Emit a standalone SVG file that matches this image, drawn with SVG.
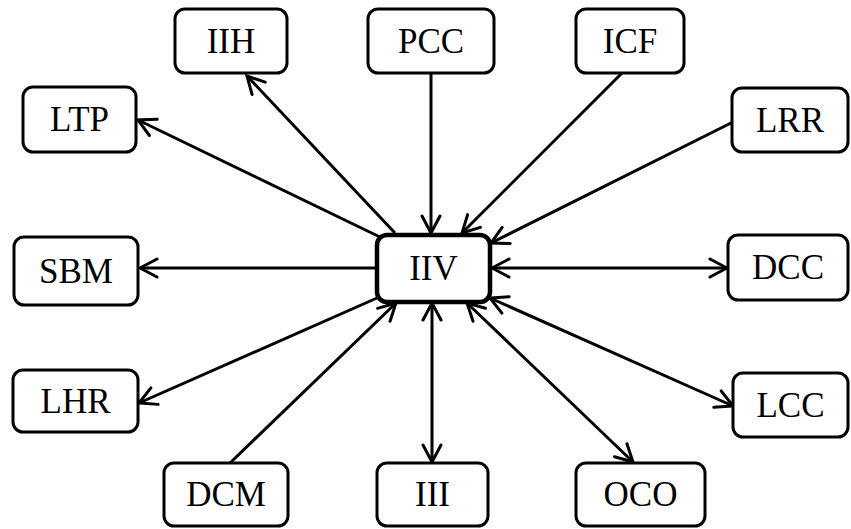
<svg xmlns="http://www.w3.org/2000/svg" width="851" height="529" viewBox="0 0 851 529">
  <style>
    .box { fill: #ffffff; stroke: #000000; stroke-width: 3; }
    .hub { fill: #ffffff; stroke: #000000; stroke-width: 4.5; }
    .lbl { font-family: "Liberation Serif", "Times New Roman", serif; font-size: 35px; fill: #000000; text-anchor: middle; }
    .edge { stroke: #000000; stroke-width: 3; fill: none; }
  </style>
  <defs>
    <marker id="arrow" viewBox="0 0 22 22" refX="19" refY="11" markerWidth="22" markerHeight="22" markerUnits="userSpaceOnUse" orient="auto-start-reverse">
      <path d="M2,2 L19,11 L2,20" fill="none" stroke="#000000" stroke-width="3" stroke-linecap="round" stroke-linejoin="miter"/>
    </marker>
  </defs>

  <!-- connectors -->
  <g id="edges">
    <line class="edge" x1="395" y1="233" x2="247" y2="76" marker-end="url(#arrow)"/>
    <line class="edge" x1="382" y1="238" x2="138" y2="120" marker-end="url(#arrow)"/>
    <line class="edge" x1="431" y1="73" x2="431" y2="233" marker-end="url(#arrow)"/>
    <line class="edge" x1="622" y1="73" x2="462" y2="233" marker-end="url(#arrow)"/>
    <line class="edge" x1="733" y1="122" x2="491" y2="243" marker-end="url(#arrow)"/>
    <line class="edge" x1="377" y1="268" x2="140" y2="268" marker-end="url(#arrow)"/>
    <line class="edge" x1="492" y1="268" x2="727" y2="268" marker-start="url(#arrow)" marker-end="url(#arrow)"/>
    <line class="edge" x1="377" y1="298" x2="139" y2="403" marker-end="url(#arrow)"/>
    <line class="edge" x1="230" y1="463" x2="396" y2="303" marker-end="url(#arrow)"/>
    <line class="edge" x1="432" y1="303" x2="432" y2="462" marker-start="url(#arrow)" marker-end="url(#arrow)"/>
    <line class="edge" x1="467" y1="303" x2="633" y2="462" marker-start="url(#arrow)" marker-end="url(#arrow)"/>
    <line class="edge" x1="490" y1="298" x2="733" y2="406" marker-start="url(#arrow)" marker-end="url(#arrow)"/>
  </g>

  <!-- nodes -->
  <g id="IIH"><rect class="box" x="175" y="9" width="112" height="64" rx="10"/><text class="lbl" x="231" y="53">IIH</text></g>
  <g id="PCC"><rect class="box" x="368" y="9" width="126" height="64" rx="10"/><text class="lbl" x="431" y="53">PCC</text></g>
  <g id="ICF"><rect class="box" x="576" y="9" width="108" height="64" rx="10"/><text class="lbl" x="630" y="53">ICF</text></g>
  <g id="LTP"><rect class="box" x="23" y="87" width="113" height="65" rx="10"/><text class="lbl" x="79.5" y="131">LTP</text></g>
  <g id="LRR"><rect class="box" x="732" y="88" width="116" height="64" rx="10"/><text class="lbl" x="790" y="132">LRR</text></g>
  <g id="SBM"><rect class="box" x="14" y="237" width="124" height="68" rx="10"/><text class="lbl" x="76" y="283">SBM</text></g>
  <g id="IIV"><rect class="hub" x="377" y="235" width="113" height="67" rx="10"/><text class="lbl" x="433.5" y="280">IIV</text></g>
  <g id="DCC"><rect class="box" x="728" y="235" width="120" height="65" rx="10"/><text class="lbl" x="788" y="279">DCC</text></g>
  <g id="LHR"><rect class="box" x="13" y="370" width="125" height="62" rx="10"/><text class="lbl" x="75.5" y="413">LHR</text></g>
  <g id="LCC"><rect class="box" x="733" y="373" width="115" height="64" rx="10"/><text class="lbl" x="790.5" y="417">LCC</text></g>
  <g id="DCM"><rect class="box" x="164" y="463" width="124" height="63" rx="10"/><text class="lbl" x="226" y="506">DCM</text></g>
  <g id="III"><rect class="box" x="377" y="463" width="111" height="63" rx="10"/><text class="lbl" x="432.5" y="506">III</text></g>
  <g id="OCO"><rect class="box" x="576" y="463" width="129" height="63" rx="10"/><text class="lbl" x="640.5" y="506">OCO</text></g>
</svg>
